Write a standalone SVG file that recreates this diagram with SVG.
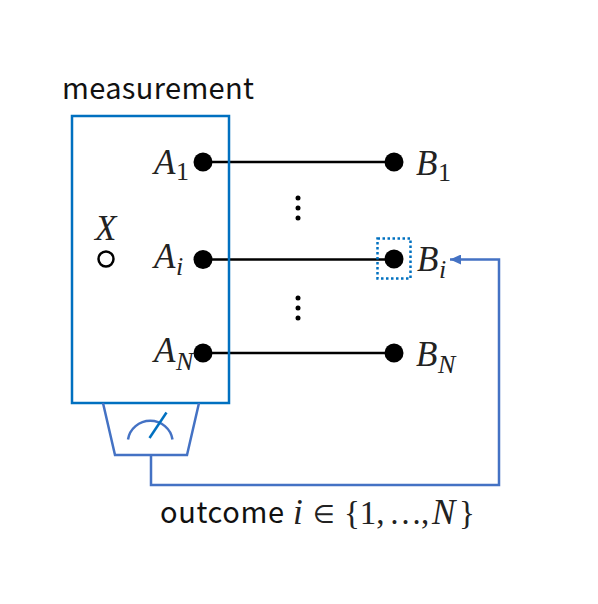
<svg xmlns="http://www.w3.org/2000/svg" width="598" height="604" viewBox="0 0 598 604">
<style>
.sans{font-family:"Noto Sans CJK JP","Noto Sans",sans-serif;font-size:29px;fill:#111}
.m{font-family:"Liberation Serif",serif;font-style:italic;font-size:35px;fill:#222}
.sub{font-family:"Liberation Serif",serif;font-size:26px;fill:#222}
.subi{font-family:"Liberation Serif",serif;font-style:italic;font-size:26px;fill:#222}
.r{font-family:"Liberation Serif",serif;font-size:33px;fill:#222}
.el{font-family:"DejaVu Sans",sans-serif;font-size:25px;fill:#222}
.wire{stroke:#000;stroke-width:2.5;fill:none}
.dot{fill:#000}
.blue{stroke:#4472c4;stroke-width:2.5;fill:none}
.dblue{stroke:#0070c0;stroke-width:2.5;fill:none}
</style>
<defs>
<marker id="arr" markerUnits="userSpaceOnUse" markerWidth="12" markerHeight="10" refX="11" refY="5" orient="auto"><path d="M0 0L11 5L0 10Z" fill="#4472c4"/></marker>
</defs>
<g id="connectors">
<path class="wire" d="M203 162H394"/>
<path class="wire" d="M203 259.500H394"/>
<path class="wire" d="M203 353H394"/>
<path class="blue" d="M151 455V485H499V259.500H450" marker-end="url(#arr)"/>
</g>
<g id="measurement">
<text class="sans" x="62" y="99" textLength="192">measurement</text>
<rect class="dblue" x="72" y="116" width="157" height="287"/>
</g>
<g id="X"><text class="m" x="95" y="240">X</text><circle cx="106" cy="259" r="7.500" fill="#fff" stroke="#000" stroke-width="2.500"/></g>
<g id="A1"><circle class="dot" cx="203" cy="162" r="9.500"/><text class="m" x="154" y="174">A</text><text class="sub" x="176" y="180">1</text></g>
<g id="Ai"><circle class="dot" cx="203" cy="259.500" r="9.500"/><text class="m" x="154" y="268">A</text><text class="subi" x="176" y="275">i</text></g>
<g id="AN"><circle class="dot" cx="203" cy="353" r="9.500"/><text class="m" x="154" y="362">A</text><text class="subi" x="176" y="370">N</text></g>
<g id="B1"><circle class="dot" cx="394" cy="162" r="9.500"/><text class="m" x="416" y="175">B</text><text class="sub" x="438" y="181">1</text></g>
<g id="Bi"><rect x="377.500" y="238.500" width="33" height="40" fill="none" stroke="#0070c0" stroke-width="2.500" stroke-dasharray="2.500 2.500"/><circle class="dot" cx="394" cy="259" r="9.500"/><text class="m" x="417" y="271">B</text><text class="subi" x="439" y="278">i</text></g>
<g id="BN"><circle class="dot" cx="394" cy="353" r="9.500"/><text class="m" x="416" y="366">B</text><text class="subi" x="438" y="373">N</text></g>
<g id="vdots1" class="dot"><circle cx="298" cy="198" r="2.500"/><circle cx="298" cy="208" r="2.500"/><circle cx="298" cy="218" r="2.500"/></g>
<g id="vdots2" class="dot"><circle cx="298" cy="298" r="2.500"/><circle cx="298" cy="308" r="2.500"/><circle cx="298" cy="318" r="2.500"/></g>
<g id="meter">
<path class="blue" d="M103 403L115 455H187L199 403"/>
<path class="blue" d="M128 439.500A22.500 22 0 0 1 172.500 439.500"/>
<path class="dblue" d="M149.500 438L166.500 412.500"/>
</g>
<text class="sans" x="160" y="523" textLength="124">outcome</text>
<text class="m" x="293" y="524">i</text>
<text class="el" x="313" y="523">∈</text>
<text class="r" x="344" y="524">{1,</text>
<text class="r" x="389" y="524" font-size="28">…</text>
<text class="r" x="421" y="524">,</text>
<text class="m" x="432" y="524">N</text>
<text class="r" x="459" y="524">}</text>
</svg>
